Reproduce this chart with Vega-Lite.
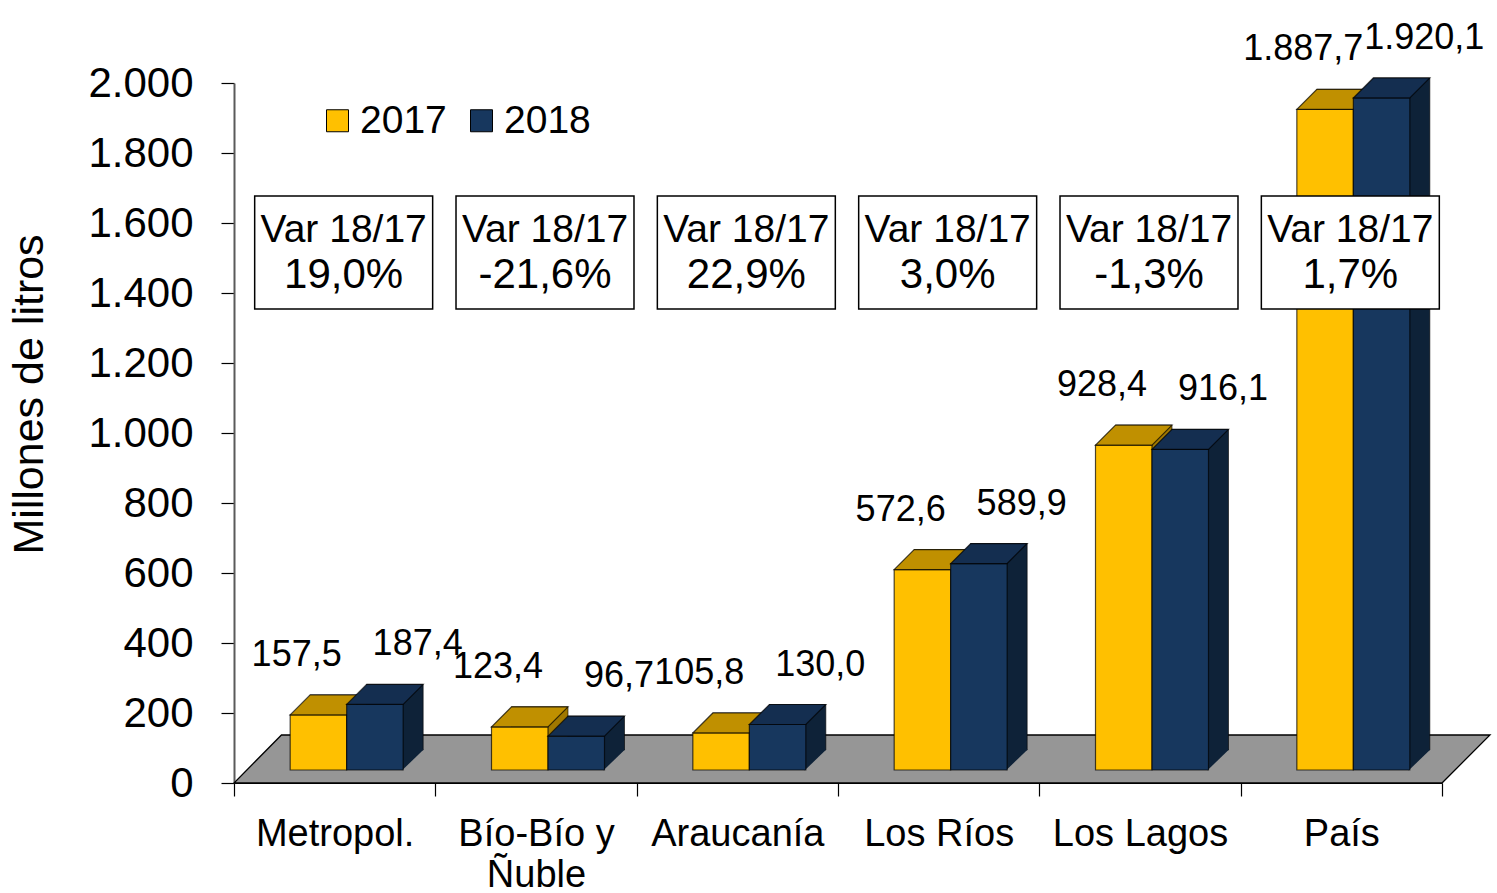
{
  "$schema": "https://vega.github.io/schema/vega-lite/v6.json",
  "width": 1208,
  "height": 700,
  "autosize": {"type": "none"},
  "padding": {"left": 234, "top": 83, "right": 55, "bottom": 110},
  "background": "white",
  "config": {
    "locale": {"number": {"decimal": ",", "thousands": ".", "grouping": [3], "currency": ["", ""], "minus": "-"}},
    "font": "Liberation Sans",
    "view": {"stroke": null},
    "axisY": {"grid": false, "domainColor": "#5a5a5a", "domainWidth": 2, "tickColor": "#000", "tickSize": 13, "tickWidth": 1.2, "labelFontSize": 42, "labelColor": "#000", "labelPadding": 28, "titleFontSize": 43, "titleFontWeight": "normal", "titleColor": "#000", "titleAngle": 270, "titleX": -192, "titleY": 311, "titleAlign": "center", "titleBaseline": "alphabetic"},
    "axisX": {"grid": false, "domainColor": "#000", "domainWidth": 1.2, "tickColor": "#000", "tickSize": 13, "tickWidth": 1.2, "tickBand": "extent", "labelFontSize": 38, "labelColor": "#000", "labelPadding": 19, "labelLineHeight": 41, "labelAngle": 0}
  },
  "datasets": {
    "bars": [
      {"Region": "Metropol.", "Year": "2017", "Litros": 157.5},
      {"Region": "Metropol.", "Year": "2018", "Litros": 187.4},
      {"Region": "Bío-Bío y Ñuble", "Year": "2017", "Litros": 123.4},
      {"Region": "Bío-Bío y Ñuble", "Year": "2018", "Litros": 96.7},
      {"Region": "Araucanía", "Year": "2017", "Litros": 105.8},
      {"Region": "Araucanía", "Year": "2018", "Litros": 130.0},
      {"Region": "Los Ríos", "Year": "2017", "Litros": 572.6},
      {"Region": "Los Ríos", "Year": "2018", "Litros": 589.9},
      {"Region": "Los Lagos", "Year": "2017", "Litros": 928.4},
      {"Region": "Los Lagos", "Year": "2018", "Litros": 916.1},
      {"Region": "País", "Year": "2017", "Litros": 1887.7},
      {"Region": "País", "Year": "2018", "Litros": 1920.1}
    ],
    "regions": [
      {"Region": "Metropol.", "Var": 0.190},
      {"Region": "Bío-Bío y Ñuble", "Var": -0.216},
      {"Region": "Araucanía", "Var": 0.229},
      {"Region": "Los Ríos", "Var": 0.030},
      {"Region": "Los Lagos", "Var": -0.013},
      {"Region": "País", "Var": 0.017}
    ]
  },
  "data": {"name": "bars"},
  "encoding": {
    "x": {
      "field": "Region", "type": "nominal",
      "sort": ["Metropol.", "Bío-Bío y Ñuble", "Araucanía", "Los Ríos", "Los Lagos", "País"],
      "scale": {"paddingInner": 0, "paddingOuter": 0},
      "axis": {"title": null, "labelExpr": "datum.value == 'Bío-Bío y Ñuble' ? ['Bío-Bío y', 'Ñuble'] : datum.label"}
    }
  },
  "layer": [
    {
      "data": {"values": [{"Region": "Metropol."}]},
      "mark": {"type": "point", "shape": "M -100.7 0 L 1107.3 0 L 1155.3 -48 L -53.2 -48 Z", "size": 4, "filled": true, "fill": "#969696", "stroke": "#000", "strokeWidth": 1.3, "opacity": 1},
      "encoding": {"y": {"datum": 0, "type": "quantitative", "scale": {"domain": [0, 2000], "nice": false}, "title": "Millones de litros", "axis": {"values": [0, 200, 400, 600, 800, 1000, 1200, 1400, 1600, 1800, 2000], "format": ",d"}}}
    },
    {
      "transform": [{"filter": "datum.Year == '2017'"}],
      "mark": {"type": "bar", "color": "#A07800", "width": {"band": 0.2806}, "xOffset": 3.75, "yOffset": -33, "y2Offset": -33, "stroke": "#000", "strokeOpacity": 0.6, "strokeWidth": 1},
      "encoding": {"y": {"field": "Litros", "type": "quantitative", "title": "Millones de litros"}}
    },
    {
      "transform": [{"filter": "datum.Year == '2017'"}],
      "mark": {"type": "point", "shape": "M 27 0.5 L 48.25 -20 L 48.25 -21 L 27 -21 Z", "size": 4, "filled": true, "fill": "#A07800", "strokeWidth": 0, "opacity": 1, "xOffset": -16.25, "yOffset": -13},
      "encoding": {"y": {"datum": 0, "type": "quantitative", "title": "Millones de litros"}}
    },
    {
      "transform": [{"filter": "datum.Year == '2017'"}],
      "mark": {"type": "bar", "width": {"band": 0.2806}, "xOffset": -16.25, "yOffset": -13, "y2Offset": -13, "stroke": "#000", "strokeOpacity": 0.7, "strokeWidth": 1.2},
      "encoding": {
        "y": {"field": "Litros", "type": "quantitative", "title": "Millones de litros"},
        "color": {"field": "Year", "type": "nominal", "scale": {"domain": ["2017", "2018"], "range": ["#FFC000", "#17375E"]},
          "legend": {"title": null, "orient": "none", "legendX": 84, "legendY": 18, "direction": "horizontal", "symbolType": "square", "symbolSize": 484, "symbolStrokeColor": "#000", "symbolStrokeWidth": 1, "symbolOpacity": 1, "labelFontSize": 39, "labelColor": "#000", "labelOffset": 3, "columnPadding": 15, "padding": 0}}
      }
    },
    {
      "transform": [{"filter": "datum.Year == '2017'"}],
      "mark": {"type": "point", "shape": "M -28.25 0 L 28.25 0 L 48.25 -20 L -8.25 -20 Z", "size": 4, "filled": true, "fill": "#C09000", "stroke": "#000", "strokeOpacity": 0.7, "strokeWidth": 1.2, "opacity": 1, "xOffset": -16.25, "yOffset": -13},
      "encoding": {"y": {"field": "Litros", "type": "quantitative", "title": "Millones de litros"}}
    },
    {
      "transform": [{"filter": "datum.Year == '2018'"}],
      "mark": {"type": "bar", "color": "#0E2238", "width": {"band": 0.2806}, "xOffset": 60.25, "yOffset": -33, "y2Offset": -33, "stroke": "#000", "strokeOpacity": 0.6, "strokeWidth": 1},
      "encoding": {"y": {"field": "Litros", "type": "quantitative", "title": "Millones de litros"}}
    },
    {
      "transform": [{"filter": "datum.Year == '2018'"}],
      "mark": {"type": "point", "shape": "M 27 0.5 L 48.25 -20 L 48.25 -21 L 27 -21 Z", "size": 4, "filled": true, "fill": "#0E2238", "strokeWidth": 0, "opacity": 1, "xOffset": 40.25, "yOffset": -13},
      "encoding": {"y": {"datum": 0, "type": "quantitative", "title": "Millones de litros"}}
    },
    {
      "transform": [{"filter": "datum.Year == '2018'"}],
      "mark": {"type": "bar", "width": {"band": 0.2806}, "xOffset": 40.25, "yOffset": -13, "y2Offset": -13, "stroke": "#000", "strokeOpacity": 0.7, "strokeWidth": 1.2},
      "encoding": {
        "y": {"field": "Litros", "type": "quantitative", "title": "Millones de litros"},
        "color": {"field": "Year", "type": "nominal"}
      }
    },
    {
      "transform": [{"filter": "datum.Year == '2018'"}],
      "mark": {"type": "point", "shape": "M -28.25 0 L 28.25 0 L 48.25 -20 L -8.25 -20 Z", "size": 4, "filled": true, "fill": "#142E50", "stroke": "#000", "strokeOpacity": 0.7, "strokeWidth": 1.2, "opacity": 1, "xOffset": 40.25, "yOffset": -13},
      "encoding": {"y": {"field": "Litros", "type": "quantitative", "title": "Millones de litros"}}
    },
    {
      "transform": [{"filter": "datum.Year == '2017'"}],
      "mark": {"type": "text", "fontSize": 36, "color": "#000", "baseline": "middle", "align": "center", "xOffset": -38, "yOffset": -73},
      "encoding": {
        "y": {"field": "Litros", "type": "quantitative", "title": "Millones de litros"},
        "text": {"field": "Litros", "type": "quantitative", "format": ",.1f"}
      }
    },
    {
      "transform": [{"filter": "datum.Year == '2018'"}],
      "mark": {"type": "text", "fontSize": 36, "color": "#000", "baseline": "middle", "align": "center", "xOffset": 83, "yOffset": -73},
      "encoding": {
        "y": {"field": "Litros", "type": "quantitative", "title": "Millones de litros"},
        "text": {"field": "Litros", "type": "quantitative", "format": ",.1f"}
      }
    },
    {
      "data": {"name": "regions"},
      "mark": {"type": "bar", "fill": "#FFFFFF", "stroke": "#000", "strokeWidth": 1.5, "width": {"band": 0.884}, "xOffset": 9},
      "encoding": {
        "y": {"datum": 1354, "type": "quantitative", "title": "Millones de litros"},
        "y2": {"datum": 1677}
      }
    },
    {
      "data": {"name": "regions"},
      "mark": {"type": "text", "fontSize": 39, "color": "#000", "baseline": "middle", "align": "center", "xOffset": 9},
      "encoding": {
        "y": {"datum": 1581, "type": "quantitative", "title": "Millones de litros"},
        "text": {"value": "Var 18/17"}
      }
    },
    {
      "data": {"name": "regions"},
      "mark": {"type": "text", "fontSize": 42, "color": "#000", "baseline": "middle", "align": "center", "xOffset": 9},
      "encoding": {
        "y": {"datum": 1451, "type": "quantitative", "title": "Millones de litros"},
        "text": {"field": "Var", "type": "quantitative", "format": ".1%"}
      }
    }
  ]
}
